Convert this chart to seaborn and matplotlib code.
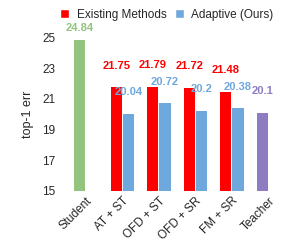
import matplotlib
matplotlib.use("Agg")
import matplotlib.pyplot as plt
import pandas as pd
import seaborn as sns

methods = ["Student", "AT + ST", "OFD + ST", "OFD + SR", "FM + SR", "Teacher"]
existing = [24.84, 21.75, 21.79, 21.72, 21.48, 20.1]
adaptive = [None, 20.04, 20.72, 20.2, 20.38, None]
hue_names = ["Existing Methods", "Adaptive (Ours)"]
yticks = [15, 17, 19, 21, 23, 25]

RED = "#ff0000"
BLUE = "#6fa8dc"
GREEN = "#93c47d"
PURPLE = "#8e7cc3"
special = {"Student": GREEN, "Teacher": PURPLE}

rows = []
for m, e, a in zip(methods, existing, adaptive):
    rows.append({"method": m, "kind": hue_names[0], "err": e})
    if a is not None:
        rows.append({"method": m, "kind": hue_names[1], "err": a})
df = pd.DataFrame(rows)

sns.set_theme(style="white")
plt.rcParams["font.family"] = ["Liberation Sans", "DejaVu Sans"]

fig = plt.figure(figsize=(3.05, 2.48), dpi=100)
ax = fig.add_axes([0.222, 0.231, 0.718, 0.617])

sns.barplot(data=df, x="method", y="err", hue="kind", order=methods,
            hue_order=hue_names, palette=[RED, BLUE], width=0.66, gap=0.08,
            saturation=1, ax=ax, legend=True)

# recolor the single bars and add the value labels
for cont, name in zip(ax.containers, hue_names):
    vals = existing if name == hue_names[0] else adaptive
    present = [(m, v) for m, v in zip(methods, vals) if v is not None]
    for bar, (m, v) in zip(cont, present):
        color = special.get(m, RED if name == hue_names[0] else BLUE)
        bar.set_facecolor(color)
        bar.set_edgecolor("none")
        off = 5 if m == "Student" else 12
        ax.annotate(f"{v:g}", (bar.get_x() + bar.get_width() / 2, v),
                    xytext=(0, off), textcoords="offset points",
                    ha="center", va="bottom", fontsize=8, fontweight="bold",
                    color=color, annotation_clip=False)

ax.set_ylim(15, 25)
ax.set_xlim(-0.5, 5.5)
ax.set_yticks(yticks)
ax.set_xlabel("")
ax.set_ylabel("top-1 err", fontsize=9, labelpad=6)
ax.tick_params(axis="y", length=0, pad=9, labelsize=8.5)
ax.tick_params(axis="x", length=0, pad=3, labelsize=8.5)
plt.setp(ax.get_xticklabels(), rotation=45, ha="right", rotation_mode="anchor")
sns.despine(ax=ax, left=True, bottom=True)

sns.move_legend(ax, "center", bbox_to_anchor=(0.452, 1.148), ncol=2,
                frameon=False, title=None, fontsize=8.5, handlelength=0.8,
                handleheight=0.8, handletextpad=0.6, columnspacing=0.7)

fig.savefig("out.png", dpi=100)
